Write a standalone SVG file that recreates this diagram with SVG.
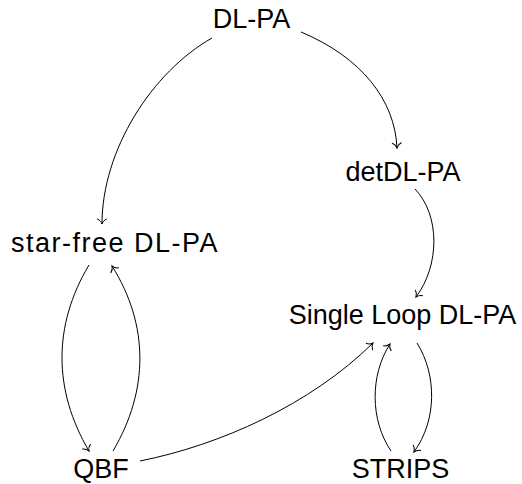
<svg xmlns="http://www.w3.org/2000/svg" width="522" height="484" viewBox="0 0 522 484">
<style>
text{font-family:"Liberation Sans",Arial,sans-serif;font-size:27px;fill:#000;text-anchor:middle}
.e path{fill:none;stroke:#000;stroke-width:1}
</style>
<defs>
<marker id="to" markerUnits="userSpaceOnUse" markerWidth="12" markerHeight="12" refX="0" refY="0" viewBox="-8 -6 10 12" orient="auto" overflow="visible">
<path d="M-5,-4.5 C-4,-2 -1.5,-0.5 0,0 C-1.5,0.5 -4,2 -5,4.5" fill="none" stroke="#000" stroke-width="1" stroke-linecap="round"/>
</marker>
</defs>
<rect width="522" height="484" fill="#fff"/>
<g id="n-dlpa"><text x="251.5" y="28">DL-PA</text></g>
<g id="n-detdlpa"><text x="403" y="181">detDL-PA</text></g>
<g id="n-starfree"><text x="115" y="252" letter-spacing="1.5">star-free DL-PA</text></g>
<g id="n-singleloop"><text x="402.5" y="324">Single Loop DL-PA</text></g>
<g id="n-qbf"><text x="101" y="478">QBF</text></g>
<g id="n-strips"><text x="400.5" y="478">STRIPS</text></g>
<g id="edges" class="e">
<path d="M212,38 C152,72 102,150 102,224" marker-end="url(#to)"/>
<path d="M301,32 C361,57 395,100 397,148" marker-end="url(#to)"/>
<path d="M415,189 C440,215 440,265 416,297" marker-end="url(#to)"/>
<path d="M89,265 C53,325 53,390 89,451" marker-end="url(#to)"/>
<path d="M113,451 C149,390 149,325 112,266" marker-end="url(#to)"/>
<path d="M140,461 C220,445 310,405 373,343" marker-end="url(#to)"/>
<path d="M391,451 C370,420 370,375 390,344" marker-end="url(#to)"/>
<path d="M417,343 C437,375 437,420 414,452" marker-end="url(#to)"/>
</g>
</svg>
